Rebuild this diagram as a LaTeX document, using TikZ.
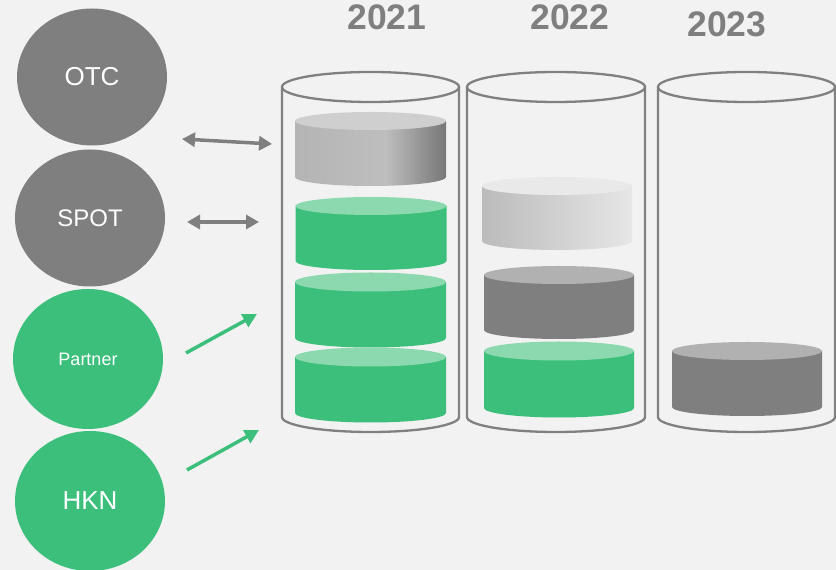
\documentclass[tikz,border=0pt]{standalone}
\usepackage{fontspec}
\setmainfont{Liberation Sans}
\usetikzlibrary{shapes.geometric,arrows.meta}
\definecolor{bg}{HTML}{F2F2F2}
\definecolor{gry}{HTML}{7F7F7F}
\definecolor{grn}{HTML}{3CBF7B}
\definecolor{grnlt}{HTML}{8CD9B0}
\definecolor{gA}{HTML}{B4B4B4}
\definecolor{gB}{HTML}{BEBEBE}
\definecolor{gC}{HTML}{777777}
\definecolor{gtop}{HTML}{CFCFCF}
\definecolor{lA}{HTML}{BBBBBB}
\definecolor{lB}{HTML}{E6E6E6}
\definecolor{ltop}{HTML}{E9E9E9}
\definecolor{dtop}{HTML}{B1B1B1}
\definecolor{glassc}{HTML}{808080}
\pgfdeclarehorizontalshading{gdisk}{100bp}{color(0bp)=(gA); color(25bp)=(gA); color(55bp)=(gB); color(75bp)=(gC); color(100bp)=(gC)}
\tikzset{
  bubble/.style={ellipse, minimum width=150pt, minimum height=137pt, inner sep=0pt, text=white, font=\fontsize{26}{26}\selectfont},
  graybubble/.style={bubble, fill=gry},
  greenbubble/.style={bubble, fill=grn},
  yearlabel/.style={text=gry, font=\bfseries\fontsize{35.5}{36}\selectfont, inner sep=0pt, anchor=base},
  glassline/.style={draw=glassc, line width=2.3pt},
  twoway/.style={draw=gry, line width=3.5pt, {Triangle[length=13pt,width=14pt]}-{Triangle[length=13pt,width=14pt]}},
  oneway/.style={draw=grn, line width=3.5pt, -{Triangle[length=14pt,width=14pt]}}
}
\newcommand\mydisk[7]{%
  \path[#6] ({#1-#2},#3) rectangle ({#1+#2},#4) (#1,#4) ellipse[x radius=#2, y radius=#5];
  \fill[#7] (#1,#3) ellipse[x radius=#2, y radius=#5];}
\newcommand\myglass[4]{%
  \draw[glassline] ({#1-#2},#3) -- ({#1-#2},#4) arc[start angle=180, end angle=360, x radius=#2, y radius=15] -- ({#1+#2},#3);
  \draw[glassline] (#1,#3) ellipse[x radius=#2, y radius=15];}
\begin{document}
\begin{tikzpicture}[x=1pt,y=1pt]
\fill[bg] (0,0) rectangle (836,570);
\useasboundingbox (0,0) rectangle (836,570);

% left bubbles
\node[graybubble] (otc) at (92,493) {OTC};
\node[graybubble, font=\fontsize{24}{24}\selectfont] (spot) at (90,352) {SPOT};
\node[greenbubble, minimum height=140pt, font=\fontsize{18}{18}\selectfont] (partner) at (88,211) {\raisebox{-2pt}{Partner}};
\node[greenbubble, minimum height=140pt] (hkn) at (90,69) {\raisebox{-2.5pt}{HKN}};

% years
\node[yearlabel] (y1) at (387,540) {2021};
\node[yearlabel] (y2) at (570,540) {2022};
\node[yearlabel] (y3) at (727,533) {2023};

% glass cylinders
\myglass{370.5}{88.5}{483}{153}
\myglass{556}{89}{483}{153}
\myglass{746.5}{88.5}{483}{153}

% 2021 contents
\mydisk{370.5}{75.5}{449}{393}{9}{shade, shading=gdisk}{gtop}
\mydisk{371}{75.5}{364}{309}{9}{fill=grn}{grnlt}
\mydisk{370.5}{75.5}{288}{232}{9.5}{fill=grn}{grnlt}
\mydisk{370.5}{75.5}{213}{157}{9.5}{fill=grn}{grnlt}

% 2022 contents
\mydisk{557}{75}{384}{329}{9}{left color=lA, right color=lB}{ltop}
\mydisk{559}{75}{295}{240}{9}{fill=gry}{dtop}
\mydisk{559}{75}{219}{162}{9.5}{fill=grn}{grnlt}

% 2023 contents
\mydisk{747}{75}{219}{163}{9}{fill=gry}{dtop}

% connectors
\coordinate (a1s) at (182,431);
\coordinate (a1e) at (272,426);
\coordinate (a2s) at (187,348);
\coordinate (a2e) at (259,348);
\coordinate (g1s) at (186,217);
\coordinate (g1e) at (257,256);
\coordinate (g2s) at (187,100);
\coordinate (g2e) at (259,140);
\draw[twoway] (a1s) -- (a1e);
\draw[twoway] (a2s) -- (a2e);
\draw[oneway] (g1s) -- (g1e);
\draw[oneway] (g2s) -- (g2e);
\end{tikzpicture}
\end{document}
